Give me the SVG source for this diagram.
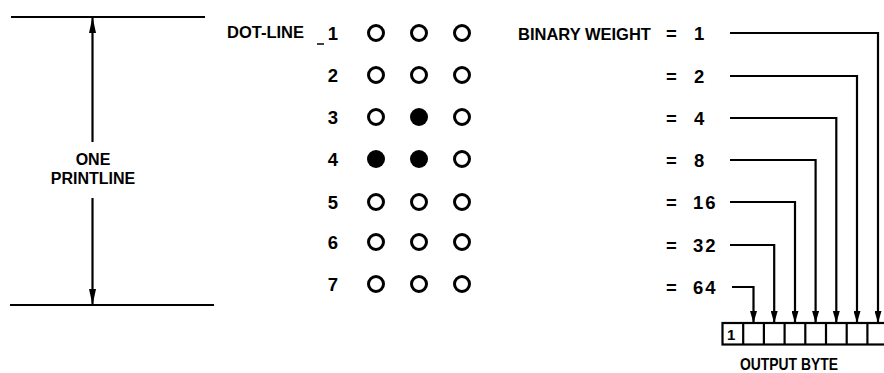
<svg xmlns="http://www.w3.org/2000/svg" width="884" height="373" viewBox="0 0 884 373">
<style>
.t{font-family:"Liberation Sans",Arial,sans-serif;font-weight:bold;fill:#000}
.lbl{font-size:16.5px}
.num{font-size:18.5px}
.ln{stroke:#000;stroke-width:2.2;fill:none}
.dot{fill:none;stroke:#000;stroke-width:3}
.on{fill:#000;stroke:none}
.cell{fill:#fff;stroke:#000;stroke-width:2.2}
</style>
<defs>
<marker id="ahL" viewBox="0 0 16 7" refX="16" refY="3.5" markerWidth="16" markerHeight="7" markerUnits="userSpaceOnUse" orient="auto"><path d="M0,0 L16,3.5 L0,7 z" fill="#000"/></marker>
<marker id="ah" viewBox="0 0 12 7" refX="12" refY="3.5" markerWidth="12" markerHeight="7" markerUnits="userSpaceOnUse" orient="auto"><path d="M0,0 L12,3.5 L0,7 z" fill="#000"/></marker>
</defs>
<rect width="884" height="373" fill="#fff"/>

<g id="printline">
<line class="ln" x1="11" y1="17" x2="205" y2="17"/>
<line class="ln" x1="10" y1="305" x2="214" y2="305"/>
<text class="t" x="93" y="164.5" font-size="16" text-anchor="middle">ONE</text>
<text class="t" x="93" y="183.5" font-size="16" text-anchor="middle">PRINTLINE</text>
</g>

<g id="dot-lines">
<text class="t lbl" x="227" y="38">DOT-LINE</text>
<line x1="317" y1="44" x2="324" y2="44" stroke="#000" stroke-width="1.5"/>
<text class="t num" x="333" y="40" text-anchor="middle">1</text>
<text class="t num" x="333" y="82" text-anchor="middle">2</text>
<text class="t num" x="333" y="124" text-anchor="middle">3</text>
<text class="t num" x="333" y="166" text-anchor="middle">4</text>
<text class="t num" x="333" y="209" text-anchor="middle">5</text>
<text class="t num" x="333" y="249" text-anchor="middle">6</text>
<text class="t num" x="333" y="291" text-anchor="middle">7</text>
</g>

<g id="dot-matrix">
<circle class="dot" cx="376" cy="33" r="7.5"/><circle class="dot" cx="419" cy="33" r="7.5"/><circle class="dot" cx="462" cy="33" r="7.5"/>
<circle class="dot" cx="376" cy="75" r="7.5"/><circle class="dot" cx="419" cy="75" r="7.5"/><circle class="dot" cx="462" cy="75" r="7.5"/>
<circle class="dot" cx="376" cy="117" r="7.5"/><circle class="on" cx="419" cy="117" r="9"/><circle class="dot" cx="462" cy="117" r="7.5"/>
<circle class="on" cx="376" cy="159" r="9"/><circle class="on" cx="419" cy="159" r="9"/><circle class="dot" cx="462" cy="159" r="7.5"/>
<circle class="dot" cx="376" cy="202" r="7.5"/><circle class="dot" cx="419" cy="202" r="7.5"/><circle class="dot" cx="462" cy="202" r="7.5"/>
<circle class="dot" cx="376" cy="242" r="7.5"/><circle class="dot" cx="419" cy="242" r="7.5"/><circle class="dot" cx="462" cy="242" r="7.5"/>
<circle class="dot" cx="376" cy="284" r="7.5"/><circle class="dot" cx="419" cy="284" r="7.5"/><circle class="dot" cx="462" cy="284" r="7.5"/>
</g>

<g id="weights">
<text class="t lbl" x="518" y="40">BINARY WEIGHT</text>
<text class="t num" x="666" y="40">=</text><text class="t num" x="694" y="40">1</text>
<text class="t num" x="666" y="83">=</text><text class="t num" x="694" y="83">2</text>
<text class="t num" x="666" y="125">=</text><text class="t num" x="694" y="125">4</text>
<text class="t num" x="666" y="167">=</text><text class="t num" x="694" y="167">8</text>
<text class="t num" x="666" y="209">=</text><text class="t num" x="693" y="209" letter-spacing="2">16</text>
<text class="t num" x="666" y="252">=</text><text class="t num" x="693" y="252" letter-spacing="2">32</text>
<text class="t num" x="666" y="294">=</text><text class="t num" x="693" y="294" letter-spacing="2">64</text>
</g>

<g id="output-byte">
<rect class="cell" x="722.5" y="323" width="170" height="21.5"/>
<line class="ln" x1="743.2" y1="323" x2="743.2" y2="344.5"/>
<line class="ln" x1="763.9" y1="323" x2="763.9" y2="344.5"/>
<line class="ln" x1="784.6" y1="323" x2="784.6" y2="344.5"/>
<line class="ln" x1="805.3" y1="323" x2="805.3" y2="344.5"/>
<line class="ln" x1="826" y1="323" x2="826" y2="344.5"/>
<line class="ln" x1="846.7" y1="323" x2="846.7" y2="344.5"/>
<line class="ln" x1="867.4" y1="323" x2="867.4" y2="344.5"/>
<text class="t" x="727" y="340" font-size="15">1</text>
<text class="t" x="789" y="370" font-size="17" text-anchor="middle" textLength="98" lengthAdjust="spacingAndGlyphs">OUTPUT BYTE</text>
</g>

<g id="connectors">
<line class="ln" x1="92.5" y1="142" x2="92.5" y2="17" marker-end="url(#ahL)"/>
<line class="ln" x1="92.5" y1="198" x2="92.5" y2="305" marker-end="url(#ahL)"/>
<path class="ln" d="M730,33 H878 V323" marker-end="url(#ah)"/>
<path class="ln" d="M730,76 H857 V323" marker-end="url(#ah)"/>
<path class="ln" d="M730,118 H836.3 V323" marker-end="url(#ah)"/>
<path class="ln" d="M730,160 H815.6 V323" marker-end="url(#ah)"/>
<path class="ln" d="M730,202 H795 V323" marker-end="url(#ah)"/>
<path class="ln" d="M730,245 H774.2 V323" marker-end="url(#ah)"/>
<path class="ln" d="M732,287 H753.5 V323" marker-end="url(#ah)"/>
</g>
</svg>
